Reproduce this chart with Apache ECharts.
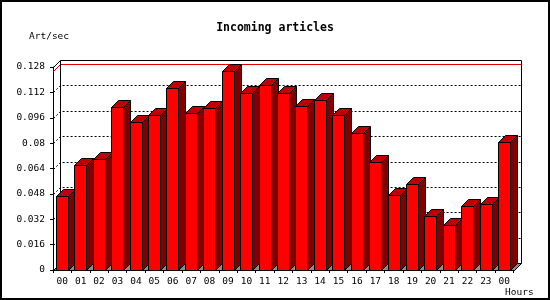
<!DOCTYPE html>
<html>
<head>
<meta charset="utf-8">
<script src="https://cdn.jsdelivr.net/npm/echarts@6/dist/echarts.min.js"></script>
<style>
html,body{margin:0;padding:0;background:#fff;}
#chart{width:550px;height:300px;}
</style>
</head>
<body>
<div id="chart"></div>
<script>
const hours = ['00','01','02','03','04','05','06','07','08','09','10','11','12','13','14','15','16','17','18','19','20','21','22','23','00'];
const artPerSec = [0.0468,0.0659,0.0697,0.1028,0.0936,0.0980,0.1150,0.0987,0.1024,0.1257,0.1119,0.1169,0.1119,0.1037,0.1075,0.0980,0.0861,0.0684,0.0470,0.0540,0.0338,0.0281,0.0401,0.0414,0.0804];
const yTickLabels = ['0','0.016','0.032','0.048','0.064','0.08','0.096','0.112','0.128'];
const yMin = 0, yMax = 0.128, yStep = 0.016;
const titleText = 'Incoming articles';
const yName = 'Art/sec';
const xName = 'Hours';

const DEPTH = 7;
const FONT = 'DejaVu Sans Mono';
const maxVal = Math.max.apply(null, artPerSec);
const gridValues = [];
for (let i = 1; i < yTickLabels.length - 1; i++) gridValues.push(Number(yTickLabels[i]));

function c(v){ return Math.round(v) + 0.5; }

function renderBack(params, api){
  const cs = params.coordSys;
  const L = c(cs.x), T = c(cs.y), R = c(cs.x + cs.width), B = c(cs.y + cs.height);
  const d = DEPTH;
  const ch = [];
  ch.push({type:'polygon', shape:{points:[[L,B],[R,B],[R+d,B-d],[L+d,B-d]]},
    style:{fill:'#8c8c8c', stroke:'#000', lineWidth:1}});
  gridValues.forEach(function(v){
    const y = c(api.coord([0, v])[1]);
    ch.push({type:'polyline', shape:{points:[[L,y],[L+d,y-d],[R+d,y-d]]},
      style:{fill:null, stroke:'#000', lineWidth:1, lineDash:[2,2]}});
  });
  const ym = c(api.coord([0, maxVal])[1]);
  ch.push({type:'polyline', shape:{points:[[L,ym],[L+d,ym-d],[R+d,ym-d]]},
    style:{fill:null, stroke:'#e00000', lineWidth:1}});
  ch.push({type:'polyline', shape:{points:[[L+d,B-d],[L+d,T-d],[R+d,T-d],[R+d,B-d],[R,B]]},
    style:{fill:null, stroke:'#000', lineWidth:1}});
  ch.push({type:'line', shape:{x1:L,y1:T,x2:L+d,y2:T-d}, style:{stroke:'#000', lineWidth:1}});
  return {type:'group', children:ch};
}

function renderBar(params, api){
  const idx = api.value(0);
  const p = api.coord([idx, api.value(1)]);
  const b = api.coord([idx, 0]);
  const bw = api.size([1, 0])[0];
  const d = DEPTH;
  const x0 = c(p[0] - bw * 0.34);
  const x1 = x0 + Math.round(bw * 0.63);
  const ty = c(p[1]);
  const by = c(b[1]);
  return {type:'group', children:[
    {type:'polygon', shape:{points:[[x1,ty],[x1+d,ty-d],[x1+d,by-d],[x1,by]]},
      style:{fill:'#800000', stroke:'#000', lineWidth:1}},
    {type:'polygon', shape:{points:[[x0,ty],[x1,ty],[x1+d,ty-d],[x0+d,ty-d]]},
      style:{fill:'#c00000', stroke:'#000', lineWidth:1}},
    {type:'polygon', shape:{points:[[x0,ty],[x1,ty],[x1,by],[x0,by]]},
      style:{fill:'#ff0000', stroke:'#000', lineWidth:1}}
  ]};
}

const chart = echarts.init(document.getElementById('chart'), null, {renderer:'canvas'});
chart.setOption({
  backgroundColor:'#ffffff',
  animation:false,
  title:{text:titleText, left:'center', top:17,
    textStyle:{fontFamily:FONT, fontWeight:'bold', fontSize:11.5, color:'#000'}},
  grid:{left:53, right:36.5, top:67, bottom:30, containLabel:false},
  xAxis:{type:'category', data:hours, boundaryGap:true,
    axisLine:{lineStyle:{color:'#000', width:1}},
    axisTick:{show:true, length:3, inside:false, alignWithLabel:false, lineStyle:{color:'#000'}},
    axisLabel:{fontFamily:FONT, fontSize:9.5, color:'#000', margin:7, interval:0},
    splitLine:{show:false}},
  yAxis:{type:'value', min:yMin, max:yMax, interval:yStep,
    axisLine:{show:true, lineStyle:{color:'#000', width:1}},
    axisTick:{show:true, length:3, lineStyle:{color:'#000'}},
    axisLabel:{fontFamily:FONT, fontSize:9.5, color:'#000', margin:8,
      formatter:function(v){ const i = Math.round((v - yMin)/yStep); return yTickLabels[i] !== undefined ? yTickLabels[i] : ''; }},
    splitLine:{show:false}},
  graphic:[
    {type:'rect', shape:{x:1, y:1, width:548, height:298}, style:{fill:null, stroke:'#000', lineWidth:2}, z:100},
    {type:'text', left:29, top:32, style:{text:yName, font:'9.5px "DejaVu Sans Mono"', fill:'#000'}},
    {type:'text', left:505, top:288, style:{text:xName, font:'9.5px "DejaVu Sans Mono"', fill:'#000'}}
  ],
  series:[
    {type:'custom', renderItem:renderBack, data:[[0,0]], z:1, silent:true, clip:false},
    {type:'custom', renderItem:renderBar, data:artPerSec.map(function(v,i){return [i,v];}),
      encode:{x:0, y:1}, z:3, clip:false}
  ]
});
</script>
</body>
</html>
